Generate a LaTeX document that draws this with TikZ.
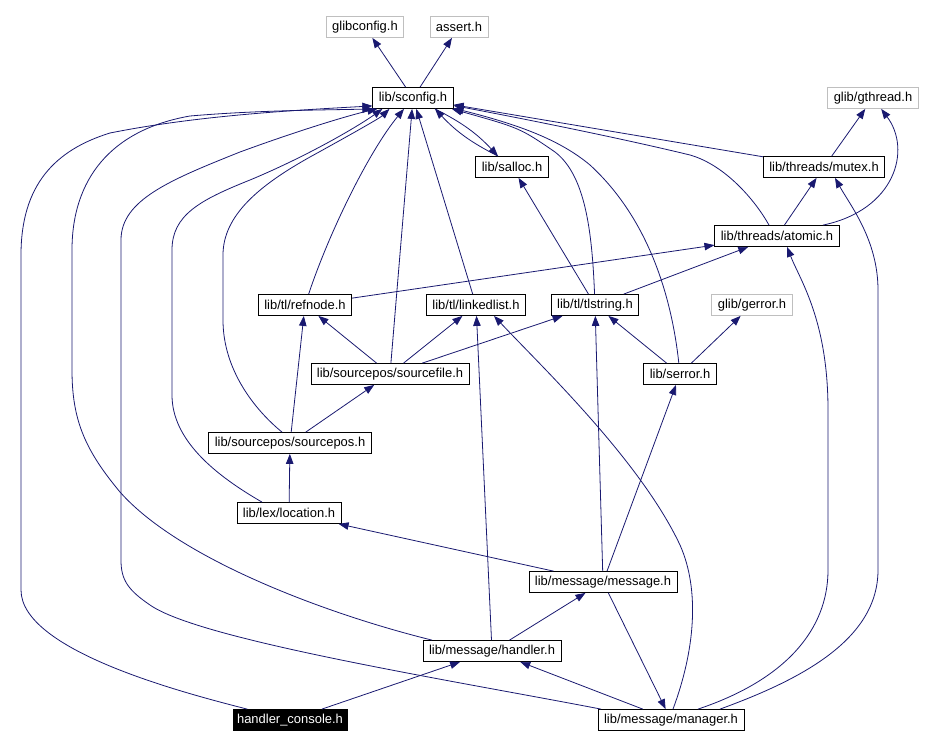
\documentclass[tikz,border=0pt]{standalone}
\usepackage{fontspec}
\setmainfont{Liberation Sans}
\usetikzlibrary{arrows.meta}

\definecolor{navy}{HTML}{191970}

\tikzset{
  file/.style={draw=black, line width=0.8bp, fill=white, inner xsep=6bp,
    inner ysep=0pt, minimum height=21bp,
    font=\fontsize{13}{15}\selectfont},
  ext file/.style={file, draw=black!25},
  this file/.style={file, fill=black, text=white, inner xsep=4bp},
  dep/.style={->, draw=navy, line width=0.8bp}
}

\begin{document}
\begin{tikzpicture}[x=1bp, y=-1bp, >={Triangle[length=10bp,width=7.5bp]}]

\useasboundingbox (0,0) rectangle (940,748);

\foreach \n/\x/\y/\l in {
    sconfig/413/98/{lib/sconfig.h}, salloc/512/167/{lib/salloc.h},
    mutex/824/167/{lib/threads/mutex.h}, atomic/777/236/{lib/threads/atomic.h},
    refnode/305/305/{lib/tl/refnode.h}, linkedlist/476/305/{lib/tl/linkedlist.h},
    tlstring/595/305/{lib/tl/tlstring.h}, sourcefile/390/374/{lib/sourcepos/sourcefile.h},
    serror/680/374/{lib/serror.h}, sourcepos/290/443/{lib/sourcepos/sourcepos.h},
    location/289/513/{lib/lex/location.h}, message/603/582/{lib/message/message.h},
    handler/492/651/{lib/message/handler.h}, manager/671/720/{lib/message/manager.h}}
  \node [file] (\n) at (\x,\y) {\l};

\foreach \n/\x/\y/\l in {
    glibconfig/365/27/{glibconfig.h}, assert/459/27/{assert.h},
    gthread/873/98/{glib/gthread.h}, gerror/752/305/{glib/gerror.h}}
  \node [ext file] (\n) at (\x,\y) {\l};

\node [this file] (handler-console) at (290,720) {handler\_console.h};

% straight includes
\foreach \a/\b in {sconfig/glibconfig, sconfig/assert, mutex/gthread,
    mutex/sconfig, atomic/mutex, tlstring/salloc, linkedlist/sconfig,
    sourcefile/sconfig, refnode/atomic, tlstring/atomic, sourcefile/refnode,
    sourcefile/linkedlist, sourcefile/tlstring, serror/tlstring, serror/gerror,
    sourcepos/refnode, sourcepos/sourcefile, location/sourcepos,
    message/location, message/tlstring, message/serror, message/manager,
    handler/message, handler/linkedlist, handler-console/handler,
    manager/handler}
  \draw [dep] (\a) -- (\b);

\draw [dep] ([xshift=22bp]sconfig.south) to [bend left=10] ([xshift=-14bp]salloc.north);
\draw [dep] ([xshift=-14bp]salloc.north) to [bend left=10] ([xshift=22bp]sconfig.south);

\draw [dep] ([xshift=46bp]atomic.north) .. controls (895,210) and (912,150) .. (gthread);

\draw [dep] (refnode) .. controls (330,230) and (370,150) .. (sconfig);

% curves on the right of sconfig
\draw [dep] (tlstring) .. controls (592,230) and (585,175) .. (555,152)
  .. controls (520,128) .. (sconfig);
\draw [dep] (serror) .. controls (672,300) and (650,220) .. (590,165)
  .. controls (560,140) and (520,125) .. (sconfig);
\draw [dep] ([xshift=-8bp]atomic.north) .. controls (755,200) and (725,165) .. (690,155)
  .. controls (620,138) and (520,118) .. (sconfig);

% curves on the left of sconfig
\draw [dep] (handler-console) .. controls (180,692) and (21,650) .. (21,590)
  -- (21,255) .. controls (21,185) and (55,150) .. (110,133)
  .. controls (200,115) and (300,110) .. ([yshift=3bp]sconfig.south west);
\draw [dep] ([xshift=-60bp]handler.north) .. controls (330,615) and (180,560) .. (120,492)
  .. controls (85,450) and (72,420) .. (72,370) -- (72,250)
  .. controls (72,180) and (110,130) .. (190,116)
  .. controls (260,110) and (330,110) .. (sconfig.south west);
\draw [dep] ([xshift=-70bp]manager.north) .. controls (450,680) and (200,640) .. (150,605)
  .. controls (128,590) and (121,580) .. (121,560) -- (121,240)
  .. controls (121,200) and (170,180) .. (240,152)
  .. controls (300,130) and (350,115) .. ([xshift=5bp]sconfig.south west);
\draw [dep] ([xshift=-27bp]location.north) .. controls (215,475) and (172,440) .. (172,395)
  -- (172,250) .. controls (172,215) and (200,200) .. (250,180)
  .. controls (310,155) and (360,125) .. ([xshift=10bp]sconfig.south west);
\draw [dep] ([xshift=-8bp]sourcepos.north) .. controls (255,410) and (223,370) .. (223,320)
  -- (223,255) .. controls (223,215) and (260,185) .. (310,157)
  .. controls (350,135) and (380,118) .. ([xshift=17bp]sconfig.south west);

% curves from manager
\draw [dep] ([xshift=49bp]manager.north) .. controls (800,680) and (878,640) .. (878,570)
  -- (878,290) .. controls (878,240) and (850,205) .. ([xshift=11bp]mutex.south);
\draw [dep] ([xshift=27bp]manager.north) .. controls (785,680) and (828,630) .. (828,570)
  -- (828,410) .. controls (828,320) and (800,280) .. ([xshift=10bp]atomic.south);
\draw [dep] ([xshift=2bp]manager.north) .. controls (695,650) and (700,590) .. (680,545)
  .. controls (640,460) and (540,365) .. ([xshift=18bp]linkedlist.south);

\end{tikzpicture}
\end{document}
